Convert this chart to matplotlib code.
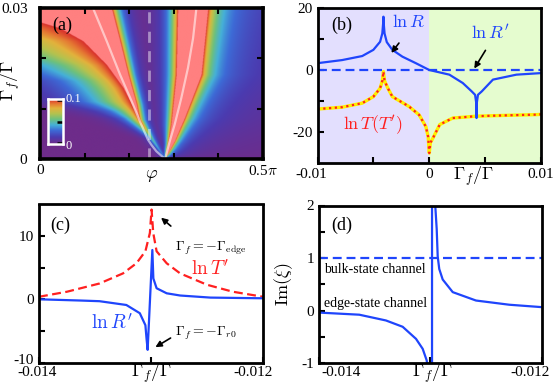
import numpy as np
import matplotlib
matplotlib.use('Agg')
import matplotlib.pyplot as plt
from matplotlib.colors import LinearSegmentedColormap
from matplotlib.transforms import ScaledTranslation

plt.rcParams['font.family'] = 'serif'
plt.rcParams['font.serif'] = ['Liberation Serif', 'DejaVu Serif']
plt.rcParams['mathtext.fontset'] = 'cm'
plt.rcParams['axes.unicode_minus'] = False

# ---------------- data ----------------
# (a) map: phi in units of pi (0..0.5), Gamma_f/Gamma (0..0.03)
# white branch curves
wl_gf = [0, 0.00153, 0.00284, 0.00384, 0.00749, 0.01146, 0.01675, 0.0234, 0.03]
wl_x = [0.562, 0.523, 0.500, 0.485, 0.449, 0.412, 0.360, 0.300, 0.238]
wr_gf = [0, 0.0035, 0.0068, 0.0121, 0.0181, 0.024, 0.03]
wr_x = [0.562, 0.583, 0.605, 0.635, 0.665, 0.688, 0.703]
# left lobe: salmon band edges, ridge height, fall-off widths
a1_gf = [0, 0.0078, 0.0095, 0.0141, 0.0187, 0.0234, 0.026, 0.0272, 0.03]
a1_x = [0.562, 0.447, 0.428, 0.375, 0.30, 0.195, 0.09, 0.0, 0.0]
a2_gf = [0, 0.0078, 0.0108, 0.01675, 0.0234, 0.03]
a2_x = [0.562, 0.447, 0.434, 0.397, 0.36, 0.322]
ampA_gf = [0, 0.002, 0.004, 0.006, 0.0078, 0.03]
ampA = [0.3, 0.4, 0.55, 0.8, 1.0, 1.0]
dA1_gf = [0, 0.004, 0.008, 0.0095, 0.0114, 0.0155, 0.0186, 0.0237, 0.026, 0.03]
dA1 = [0.015, 0.02, 0.06, 0.10, 0.18, 0.22, 0.33, 0.66, 1.0, 1.0]
dA2_gf = [0, 0.004, 0.008, 0.0167, 0.03]
dA2 = [0.012, 0.018, 0.025, 0.03, 0.04]
# right lobe
b1_gf = [0, 0.0028, 0.0068, 0.0167, 0.03]
b1_x = [0.562, 0.575, 0.590, 0.613, 0.620]
b2_gf = [0, 0.0035, 0.0081, 0.0167, 0.03]
b2_x = [0.562, 0.605, 0.650, 0.725, 0.755]
ampB_gf = [0, 0.001, 0.002, 0.03]
ampB = [0.5, 0.9, 1.0, 1.0]
dB1_gf = [0, 0.003, 0.0068, 0.0167, 0.03]
dB1 = [0.006, 0.012, 0.025, 0.04, 0.045]
dB2_gf = [0, 0.003, 0.0081, 0.0167, 0.03]
dB2 = [0.008, 0.015, 0.03, 0.045, 0.054]
phi_dash = 0.244

# (b)
lnR_x = [-0.01, -0.0078, -0.006, -0.005, -0.0044, -0.0042, -0.00413, -0.0041,
         -0.00407, -0.0040, -0.0038, -0.0033, -0.0024, -0.0012, 0.0, 0.0018,
         0.003, 0.0038, 0.0041, 0.0042, 0.00423, 0.00426, 0.00436, 0.0047,
         0.0057, 0.0078, 0.01]
lnR_y = [2.2, 3.2, 4.5, 6.5, 9.1, 11.8, 14.9, 17.2,
         14.9, 11.8, 9.0, 6.5, 4.3, 2.2, 0.0, -1.5,
         -4.2, -6.9, -8.0, -10.5, -15.5, -10.5, -8.0, -6.9,
         -3.1, -1.5, -1.0]
lnRp_b_x = [-0.01, 0.01]
lnRp_b_y = [0.0, 0.0]
lnT_x = [-0.01, -0.0078, -0.006, -0.005, -0.0044, -0.0042, -0.00413, -0.0041,
         -0.00407, -0.0040, -0.0037, -0.0033, -0.0018, -0.0009, -0.0003,
         -0.0001, 0.0, 0.0001, 0.00034, 0.00094, 0.0021, 0.0042, 0.0072, 0.0096, 0.01]
lnT_y = [-12.6, -12.0, -10.7, -8.6, -5.9, -3.5, -1.5, -0.5,
         -1.5, -3.5, -5.9, -8.6, -11.8, -14.5, -18.3,
         -21.5, -26.8, -23.5, -21.9, -17.6, -15.5, -14.9, -14.6, -14.4, -14.3]

# (c)
lnTp_x = [-0.014, -0.01375, -0.01346, -0.01325, -0.01313, -0.01305, -0.01301,
          -0.012995, -0.01298, -0.01295, -0.01286, -0.01274, -0.0125, -0.01227, -0.012]
lnTp_y = [0.4, 1.2, 2.5, 4.1, 5.7, 7.6, 10.5, 14.2, 10.5, 7.6, 5.7, 4.1, 2.3, 1.2, 0.4]
lnRp_x = [-0.014, -0.01362, -0.01346, -0.01322, -0.0131, -0.01305, -0.01304,
          -0.01303, -0.012988, -0.012979, -0.01295, -0.01286, -0.01274,
          -0.01247, -0.012]
lnRp_y = [0.0, -0.2, -0.3, -0.9, -2.2, -4.1, -6.2,
          -8.0, 7.8, 3.3, 1.75, 0.95, 0.6,
          0.27, 0.16]

# (d)
imxi_x = [-0.013997, -0.013638, -0.013398, -0.013248, -0.013128, -0.013068,
          -0.013032, -0.01301, -0.012984, -0.012984, -0.012955, -0.012942,
          -0.012933, -0.012919, -0.012888, -0.012843, -0.012798, -0.012589,
          -0.01229, -0.012004]
imxi_y = [-0.04, -0.08, -0.19, -0.31, -0.54, -0.73,
          -0.95, -1.3, -5.0, 5.0, 2.0, 1.55,
          1.03, 0.79, 0.59, 0.47, 0.35, 0.19,
          0.11, 0.065]
bulk_x = [-0.014, -0.012]
bulk_y = [1.0, 1.0]

blue = '#1f45fc'
red = '#ff2020'

fig = plt.figure(figsize=(5.56, 3.89), dpi=100)


def shift_ticklabels(axis, shifts, vertical=False):
    # nudge single tick labels (in pixels) as in the original
    for lab, sh in zip(axis.get_ticklabels(), shifts):
        if sh:
            off = (0, sh / 100) if vertical else (sh / 100, 0)
            lab.set_transform(lab.get_transform() +
                              ScaledTranslation(off[0], off[1], fig.dpi_scale_trans))


# ---------------- (a) ----------------
ax = fig.add_axes([40/556, 1-159/389, 222.5/556, 151/389])
nx, ny = 700, 450
xf = np.linspace(0, 1, nx)
gf = np.linspace(0, 0.03, ny)


def lobe(xrow, e1, e2, amp, w1, w2, hyper_right=False):
    d_left = np.clip(e1 - xrow, 0, None)
    d_right = np.clip(xrow - e2, 0, None)
    g1 = np.exp(-d_left / w1)
    if hyper_right:
        g2 = 1.0 / (1.0 + d_right / w2)
    else:
        g2 = np.exp(-d_right / w2)
    v = amp * np.minimum(g1, g2)
    inside = (xrow > e1) & (xrow < e2)
    v[inside] = 2.0
    return v


img = np.zeros((ny, nx))
for j, g in enumerate(gf):
    vA = lobe(xf, np.interp(g, a1_gf, a1_x), np.interp(g, a2_gf, a2_x),
              np.interp(g, ampA_gf, ampA), np.interp(g, dA1_gf, dA1),
              np.interp(g, dA2_gf, dA2))
    vB = lobe(xf, np.interp(g, b1_gf, b1_x), np.interp(g, b2_gf, b2_x),
              np.interp(g, ampB_gf, ampB), np.interp(g, dB1_gf, dB1),
              np.interp(g, dB2_gf, dB2), hyper_right=True)
    img[j] = 0.1 * np.maximum(vA, vB)

cmap = LinearSegmentedColormap.from_list('rb', [
    (0.0, '#6e2c8a'), (0.15, '#4b3bb0'), (0.3, '#3d6ad6'), (0.42, '#45b0d8'),
    (0.55, '#6cc07e'), (0.68, '#b5c24e'), (0.8, '#e2b23c'), (0.9, '#e57833'),
    (1.0, '#d8302c')])
cmap.set_over('#ff8080')
ax.imshow(img, origin='lower', extent=[0, 0.5, 0, 0.03], aspect='auto',
          cmap=cmap, vmin=0, vmax=0.1, interpolation='bilinear')
wx = np.concatenate([wl_x[::-1], wr_x[1:]]) * 0.5
wy = np.concatenate([wl_gf[::-1], wr_gf[1:]])
ax.plot(wx, wy, color='white', alpha=0.55, lw=1.6)
ax.axvline(phi_dash, color='white', alpha=0.45, lw=2, dashes=(4, 3))
ax.set_xlim(0, 0.5)
ax.set_ylim(0, 0.03)
ax.set_xticks([0, 0.5])
ax.set_xticklabels(['0', r'0.5$\pi$'])
ax.set_xticks([0.1, 0.2, 0.3, 0.4], minor=True)
ax.set_yticks([0, 0.03])
ax.set_yticklabels(['0', '0.03'])
ax.set_yticks([0.01, 0.02], minor=True)
ax.tick_params(which='both', direction='in', top=True, right=True, length=4,
               width=1.5, labelsize=11)
ax.tick_params(axis='y', pad=9)
for s in ax.spines.values():
    s.set_linewidth(2.6)
ax.set_ylabel(r'$\Gamma_f/\Gamma$', fontsize=13)
ax.yaxis.set_label_coords(-0.08, 0.52)
ax.text(0.5, -0.11, r'$\varphi$', transform=ax.transAxes, ha='center',
        va='center', fontsize=13)
ax.text(0.055, 0.885, '(a)', transform=ax.transAxes, ha='left', va='center',
        fontsize=13)

# colour bar inset
cax = fig.add_axes([48/556, 1-144/389, 15/556, 45/389])
cax.imshow(np.linspace(0, 1, 100)[:, None], origin='lower', aspect='auto',
           cmap=cmap, vmin=0, vmax=1, extent=[0, 1, 0, 1])
cax.set_xticks([])
cax.set_yticks([0.02, 0.5, 0.98])
cax.yaxis.tick_right()
cax.tick_params(direction='in', length=4, width=1.8, color='k', labelright=False)
for s in cax.spines.values():
    s.set_color('white')
    s.set_linewidth(1.8)
fig.text(66/556, 1-99/389, '0.1', color='white', fontsize=9, va='center')
fig.text(66/556, 1-146/389, '0', color='white', fontsize=9, va='center')

# ---------------- (b) ----------------
bx = fig.add_axes([317.5/556, 1-163/389, 223.5/556, 155/389])
bx.axvspan(-0.01, 0, color='#e3dffe', lw=0)
bx.axvspan(0, 0.01, color='#e5fccf', lw=0)
bx.plot(lnRp_b_x, lnRp_b_y, color=blue, lw=1.6, dashes=(4, 2.2))
bx.plot(lnT_x, lnT_y, color='#ffee00', lw=2.4)
bx.plot(lnT_x, lnT_y, color=red, lw=1.6, dashes=(1, 1.6))
bx.plot(lnR_x, lnR_y, color=blue, lw=1.6)
bx.set_xlim(-0.01, 0.01)
bx.set_ylim(-30, 20)
bx.set_xticks([-0.01, 0, 0.01])
bx.set_xticklabels(['-0.01', '0', '0.01'])
bx.set_xticks([-0.005, 0.005], minor=True)
bx.set_yticks([-20, 0, 20])
bx.set_yticks([-10, 10], minor=True)
bx.tick_params(which='both', direction='in', length=4, width=1.5, labelsize=11)
shift_ticklabels(bx.xaxis, [-6, 0, 0])
for s in bx.spines.values():
    s.set_linewidth(2)
bx.text(-0.00184, 15.2, r'$\ln R$', color=blue, fontsize=13, ha='center', va='center')
bx.annotate('', xy=(-0.00354, 4.8), xytext=(-0.00256, 9.4),
            arrowprops=dict(arrowstyle='-|>', color='k', lw=1.2, mutation_scale=9))
bx.text(0.0055, 11.9, r"$\ln R'$", color=blue, fontsize=13, ha='center', va='center')
bx.annotate('', xy=(0.0039, -0.3), xytext=(0.00516, 7.1),
            arrowprops=dict(arrowstyle='-|>', color='k', lw=1.2, mutation_scale=9))
bx.text(-0.00507, -17.7, r"$\ln T(T')$", color=red, fontsize=13, ha='center', va='center')
bx.text(0.696, -0.085, r'$\Gamma_f/\Gamma$', transform=bx.transAxes, ha='center',
        va='center', fontsize=13)
bx.text(0.06, 0.89, '(b)', transform=bx.transAxes, ha='left', va='center', fontsize=13)

# ---------------- (c) ----------------
cx = fig.add_axes([39/556, 1-362.5/389, 224/556, 158/389])
cx.plot(lnTp_x, lnTp_y, color=red, lw=1.6, dashes=(4, 2))
cx.plot(lnRp_x, lnRp_y, color=blue, lw=1.6)
cx.set_xlim(-0.014, -0.012)
cx.set_ylim(-10, 15)
cx.set_xticks([-0.014, -0.012])
cx.set_xticklabels(['-0.014', '-0.012'])
cx.set_xticks([-0.013], minor=True)
cx.set_yticks([-10, 0, 10])
cx.set_yticks([-5, 5], minor=True)
cx.tick_params(which='both', direction='in', length=4, width=1.5, labelsize=11)
cx.tick_params(axis='x', pad=2.5)
shift_ticklabels(cx.xaxis, [-2, -10])
shift_ticklabels(cx.yaxis, [4, 0, 0], vertical=True)
for s in cx.spines.values():
    s.set_linewidth(2)
cx.text(-0.012786, 8.1, r'$\Gamma_f=-\Gamma_{\rm edge}$', fontsize=10, ha='left', va='center')
cx.annotate('', xy=(-0.012929, 13.2), xytext=(-0.012804, 11.3),
            arrowprops=dict(arrowstyle='-|>', color='k', lw=1.2, mutation_scale=9))
cx.text(-0.012786, -5.4, r'$\Gamma_f=-\Gamma_{r0}$', fontsize=10, ha='left', va='center')
cx.annotate('', xy=(-0.012982, -7.8), xytext=(-0.012804, -5.9),
            arrowprops=dict(arrowstyle='-|>', color='k', lw=1.2, mutation_scale=9))
cx.text(-0.012473, 4.9, r"$\ln T'$", color=red, fontsize=14, ha='center', va='center')
cx.text(-0.013348, -3.8, r"$\ln R'$", color=blue, fontsize=14, ha='center', va='center')
cx.text(0.504, -0.07, r'$\Gamma_f/\Gamma$', transform=cx.transAxes, ha='center',
        va='center', fontsize=13)
cx.text(0.05, 0.87, '(c)', transform=cx.transAxes, ha='left', va='center', fontsize=13)

# ---------------- (d) ----------------
dx = fig.add_axes([319/556, 1-363/389, 222.5/556, 157.5/389])
dx.plot(bulk_x, bulk_y, color=blue, lw=1.6, dashes=(4, 2.2))
dx.plot(imxi_x, imxi_y, color=blue, lw=1.6)
dx.set_xlim(-0.014, -0.012)
dx.set_ylim(-1, 2)
dx.set_xticks([-0.014, -0.012])
dx.set_xticklabels(['-0.014', '-0.012'])
dx.set_xticks([-0.013], minor=True)
dx.set_yticks([-1, 0, 1, 2])
dx.set_yticks([-0.5, 0.5, 1.5], minor=True)
dx.tick_params(which='both', direction='in', length=4, width=1.5, labelsize=11)
dx.tick_params(axis='x', pad=2.5)
shift_ticklabels(dx.xaxis, [22, -11])
for s in dx.spines.values():
    s.set_linewidth(2)
dx.text(-0.013955, 0.79, 'bulk-state channel', fontsize=10, ha='left', va='center')
dx.text(-0.013955, 0.13, 'edge-state channel', fontsize=10, ha='left', va='center')
dx.set_ylabel(r'$\mathrm{Im}(\xi)$', fontsize=13)
dx.yaxis.set_label_coords(-0.11, 0.5)
dx.text(0.508, -0.068, r'$\Gamma_f/\Gamma$', transform=dx.transAxes, ha='center',
        va='center', fontsize=13)
dx.text(0.054, 0.876, '(d)', transform=dx.transAxes, ha='left', va='center', fontsize=13)

fig.savefig('out.png', dpi=100)
